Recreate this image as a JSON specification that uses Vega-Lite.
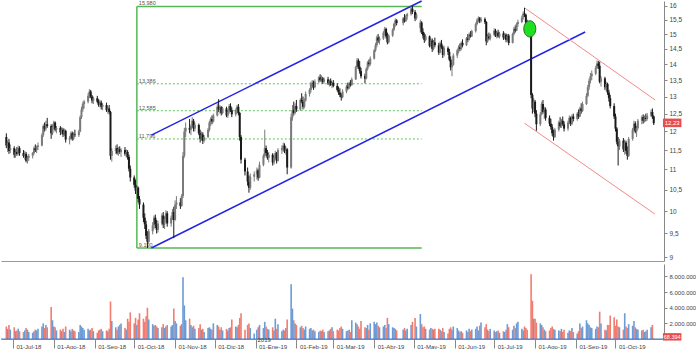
{
"$schema":"https://vega.github.io/schema/vega-lite/v6.json",
"padding":0,
"background":"white",
"spacing":3,
"config":{
 "view":{"stroke":null},
 "axis":{"labelFont":"Liberation Sans","labelColor":"#444","domainColor":"#888","tickColor":"#888","grid":false,"title":null,"labelOverlap":false},
 "locale":{
  "number":{"decimal":",","thousands":".","grouping":[3],"currency":["","\u00a0€"]},
  "time":{"dateTime":"%A, %e de %B de %Y, %X","date":"%d/%m/%Y","time":"%H:%M:%S","periods":["AM","PM"],
   "days":["domingo","lunes","martes","miércoles","jueves","viernes","sábado"],
   "shortDays":["dom","lun","mar","mié","jue","vie","sáb"],
   "months":["enero","febrero","marzo","abril","mayo","junio","julio","agosto","septiembre","octubre","noviembre","diciembre"],
   "shortMonths":["Ene","Feb","Mar","Abr","May","Jun","Jul","Ago","Sep","Oct","Nov","Dic"]}
 }
},
"datasets":{"px":[
{"d":"2018-06-26","o":11.85,"h":11.95,"l":11.55,"c":11.62,"v":1.6},
{"d":"2018-06-27","o":11.62,"h":11.75,"l":11.45,"c":11.70,"v":1.3},
{"d":"2018-06-28","o":11.70,"h":11.80,"l":11.40,"c":11.48,"v":1.8},
{"d":"2018-06-29","o":11.50,"h":11.65,"l":11.42,"c":11.55,"v":1.2},
{"d":"2018-07-02","o":11.55,"h":11.60,"l":11.30,"c":11.38,"v":1.5},
{"d":"2018-07-03","o":11.38,"h":11.52,"l":11.30,"c":11.45,"v":1.0},
{"d":"2018-07-04","o":11.45,"h":11.58,"l":11.35,"c":11.40,"v":1.1},
{"d":"2018-07-05","o":11.40,"h":11.62,"l":11.36,"c":11.55,"v":1.3},
{"d":"2018-07-06","o":11.55,"h":11.60,"l":11.35,"c":11.42,"v":1.0},
{"d":"2018-07-09","o":11.42,"h":11.50,"l":11.30,"c":11.35,"v":0.9},
{"d":"2018-07-10","o":11.35,"h":11.48,"l":11.25,"c":11.40,"v":1.1},
{"d":"2018-07-11","o":11.40,"h":11.45,"l":11.18,"c":11.22,"v":1.4},
{"d":"2018-07-12","o":11.22,"h":11.35,"l":11.15,"c":11.30,"v":1.2},
{"d":"2018-07-13","o":11.30,"h":11.40,"l":11.22,"c":11.35,"v":0.9},
{"d":"2018-07-16","o":11.35,"h":11.45,"l":11.28,"c":11.42,"v":0.8},
{"d":"2018-07-17","o":11.42,"h":11.60,"l":11.38,"c":11.55,"v":1.0},
{"d":"2018-07-18","o":11.55,"h":11.65,"l":11.45,"c":11.50,"v":1.2},
{"d":"2018-07-19","o":11.50,"h":11.62,"l":11.42,"c":11.58,"v":1.1},
{"d":"2018-07-20","o":11.58,"h":11.70,"l":11.50,"c":11.62,"v":1.3},
{"d":"2018-07-23","o":11.62,"h":11.95,"l":11.60,"c":11.90,"v":1.6},
{"d":"2018-07-24","o":11.90,"h":12.20,"l":11.85,"c":12.15,"v":2.0},
{"d":"2018-07-25","o":12.15,"h":12.25,"l":12.00,"c":12.08,"v":1.4},
{"d":"2018-07-26","o":12.08,"h":12.30,"l":12.02,"c":12.20,"v":1.8},
{"d":"2018-07-27","o":12.20,"h":12.38,"l":12.10,"c":12.15,"v":1.5},
{"d":"2018-07-30","o":12.15,"h":12.20,"l":11.80,"c":11.95,"v":4.1},
{"d":"2018-07-31","o":11.95,"h":12.20,"l":11.90,"c":12.12,"v":2.4},
{"d":"2018-08-01","o":12.12,"h":12.30,"l":12.05,"c":12.25,"v":1.6},
{"d":"2018-08-02","o":12.25,"h":12.28,"l":12.00,"c":12.05,"v":1.5},
{"d":"2018-08-03","o":12.05,"h":12.15,"l":11.95,"c":12.10,"v":1.1},
{"d":"2018-08-06","o":12.10,"h":12.15,"l":11.90,"c":11.98,"v":1.2},
{"d":"2018-08-07","o":11.98,"h":12.12,"l":11.92,"c":12.05,"v":1.0},
{"d":"2018-08-08","o":12.05,"h":12.10,"l":11.85,"c":11.92,"v":1.3},
{"d":"2018-08-09","o":11.92,"h":12.08,"l":11.88,"c":12.02,"v":0.9},
{"d":"2018-08-10","o":12.02,"h":12.05,"l":11.70,"c":11.78,"v":1.6},
{"d":"2018-08-13","o":11.78,"h":11.88,"l":11.65,"c":11.82,"v":1.2},
{"d":"2018-08-14","o":11.82,"h":12.00,"l":11.78,"c":11.95,"v":1.0},
{"d":"2018-08-15","o":11.95,"h":12.00,"l":11.75,"c":11.80,"v":1.3},
{"d":"2018-08-16","o":11.80,"h":11.98,"l":11.76,"c":11.92,"v":1.1},
{"d":"2018-08-17","o":11.92,"h":12.05,"l":11.85,"c":11.90,"v":1.0},
{"d":"2018-08-20","o":11.90,"h":12.05,"l":11.85,"c":12.00,"v":0.9},
{"d":"2018-08-21","o":12.00,"h":12.45,"l":11.98,"c":12.40,"v":1.8},
{"d":"2018-08-22","o":12.40,"h":12.70,"l":12.35,"c":12.62,"v":1.6},
{"d":"2018-08-23","o":12.62,"h":12.85,"l":12.55,"c":12.78,"v":1.4},
{"d":"2018-08-24","o":12.78,"h":12.90,"l":12.65,"c":12.85,"v":1.2},
{"d":"2018-08-27","o":12.85,"h":13.10,"l":12.80,"c":13.02,"v":1.3},
{"d":"2018-08-28","o":13.02,"h":13.22,"l":12.95,"c":13.15,"v":1.1},
{"d":"2018-08-29","o":13.15,"h":13.20,"l":12.95,"c":13.00,"v":1.2},
{"d":"2018-08-30","o":13.00,"h":13.05,"l":12.80,"c":12.88,"v":1.4},
{"d":"2018-08-31","o":12.88,"h":13.00,"l":12.78,"c":12.95,"v":1.0},
{"d":"2018-09-03","o":12.95,"h":13.02,"l":12.80,"c":12.85,"v":0.8},
{"d":"2018-09-04","o":12.85,"h":12.92,"l":12.70,"c":12.75,"v":1.1},
{"d":"2018-09-05","o":12.75,"h":12.90,"l":12.68,"c":12.82,"v":1.2},
{"d":"2018-09-06","o":12.82,"h":12.88,"l":12.62,"c":12.70,"v":1.3},
{"d":"2018-09-07","o":12.70,"h":12.80,"l":12.60,"c":12.75,"v":1.0},
{"d":"2018-09-10","o":12.75,"h":12.82,"l":12.55,"c":12.60,"v":1.1},
{"d":"2018-09-11","o":12.60,"h":12.72,"l":12.50,"c":12.65,"v":1.0},
{"d":"2018-09-12","o":12.65,"h":12.75,"l":12.48,"c":12.55,"v":1.3},
{"d":"2018-09-13","o":12.55,"h":12.58,"l":11.25,"c":11.35,"v":4.8},
{"d":"2018-09-14","o":11.35,"h":11.55,"l":11.20,"c":11.48,"v":2.3},
{"d":"2018-09-17","o":11.48,"h":11.62,"l":11.40,"c":11.55,"v":1.5},
{"d":"2018-09-18","o":11.55,"h":11.65,"l":11.38,"c":11.42,"v":1.2},
{"d":"2018-09-19","o":11.42,"h":11.58,"l":11.35,"c":11.52,"v":1.6},
{"d":"2018-09-20","o":11.52,"h":11.60,"l":11.40,"c":11.45,"v":1.8},
{"d":"2018-09-21","o":11.45,"h":11.55,"l":11.32,"c":11.50,"v":2.0},
{"d":"2018-09-24","o":11.50,"h":11.58,"l":11.35,"c":11.40,"v":1.4},
{"d":"2018-09-25","o":11.40,"h":11.52,"l":11.30,"c":11.45,"v":1.2},
{"d":"2018-09-26","o":11.45,"h":11.50,"l":11.25,"c":11.32,"v":2.6},
{"d":"2018-09-27","o":11.32,"h":11.38,"l":10.95,"c":11.02,"v":2.2},
{"d":"2018-09-28","o":11.02,"h":11.10,"l":10.70,"c":10.80,"v":3.4},
{"d":"2018-10-01","o":10.80,"h":10.85,"l":10.55,"c":10.62,"v":2.0},
{"d":"2018-10-02","o":10.62,"h":10.75,"l":10.40,"c":10.48,"v":2.7},
{"d":"2018-10-03","o":10.48,"h":10.60,"l":10.30,"c":10.55,"v":1.8},
{"d":"2018-10-04","o":10.55,"h":10.58,"l":10.20,"c":10.28,"v":2.5},
{"d":"2018-10-05","o":10.28,"h":10.35,"l":10.05,"c":10.15,"v":3.3},
{"d":"2018-10-08","o":10.15,"h":10.20,"l":9.75,"c":9.85,"v":2.6},
{"d":"2018-10-09","o":9.85,"h":9.95,"l":9.60,"c":9.70,"v":2.2},
{"d":"2018-10-10","o":9.70,"h":9.78,"l":9.38,"c":9.45,"v":2.9},
{"d":"2018-10-11","o":9.45,"h":9.55,"l":9.19,"c":9.32,"v":4.0},
{"d":"2018-10-12","o":9.32,"h":9.60,"l":9.28,"c":9.55,"v":2.5},
{"d":"2018-10-15","o":9.55,"h":9.75,"l":9.48,"c":9.68,"v":1.9},
{"d":"2018-10-16","o":9.68,"h":9.90,"l":9.60,"c":9.85,"v":1.7},
{"d":"2018-10-17","o":9.85,"h":9.92,"l":9.62,"c":9.70,"v":1.8},
{"d":"2018-10-18","o":9.70,"h":9.80,"l":9.50,"c":9.58,"v":1.6},
{"d":"2018-10-19","o":9.58,"h":9.78,"l":9.52,"c":9.72,"v":1.4},
{"d":"2018-10-22","o":9.72,"h":9.95,"l":9.68,"c":9.90,"v":1.5},
{"d":"2018-10-23","o":9.90,"h":9.98,"l":9.62,"c":9.70,"v":1.9},
{"d":"2018-10-24","o":9.70,"h":9.88,"l":9.60,"c":9.82,"v":1.4},
{"d":"2018-10-25","o":9.82,"h":10.02,"l":9.75,"c":9.95,"v":1.6},
{"d":"2018-10-26","o":9.95,"h":10.00,"l":9.65,"c":9.72,"v":1.8},
{"d":"2018-10-29","o":9.72,"h":9.90,"l":9.65,"c":9.85,"v":1.6},
{"d":"2018-10-30","o":9.85,"h":10.05,"l":9.80,"c":9.98,"v":1.8},
{"d":"2018-10-31","o":9.98,"h":10.10,"l":9.40,"c":9.80,"v":3.9},
{"d":"2018-11-01","o":9.80,"h":10.25,"l":9.78,"c":10.15,"v":2.3},
{"d":"2018-11-02","o":10.15,"h":10.35,"l":10.05,"c":10.20,"v":2.0},
{"d":"2018-11-05","o":10.20,"h":10.30,"l":10.05,"c":10.12,"v":1.7},
{"d":"2018-11-06","o":10.12,"h":10.40,"l":10.10,"c":10.35,"v":1.9},
{"d":"2018-11-07","o":10.35,"h":11.45,"l":10.30,"c":11.35,"v":7.9},
{"d":"2018-11-08","o":11.35,"h":12.10,"l":11.30,"c":12.00,"v":4.3},
{"d":"2018-11-09","o":12.00,"h":12.25,"l":11.85,"c":12.10,"v":2.4},
{"d":"2018-11-12","o":12.10,"h":12.35,"l":11.95,"c":12.05,"v":2.6},
{"d":"2018-11-13","o":12.05,"h":12.20,"l":11.90,"c":12.15,"v":1.8},
{"d":"2018-11-14","o":12.15,"h":12.40,"l":12.10,"c":12.30,"v":1.5},
{"d":"2018-11-15","o":12.30,"h":12.35,"l":12.00,"c":12.08,"v":1.7},
{"d":"2018-11-16","o":12.08,"h":12.25,"l":12.00,"c":12.18,"v":1.3},
{"d":"2018-11-19","o":12.18,"h":12.22,"l":11.90,"c":11.95,"v":1.4},
{"d":"2018-11-20","o":11.95,"h":12.05,"l":11.70,"c":11.80,"v":1.9},
{"d":"2018-11-21","o":11.80,"h":12.00,"l":11.75,"c":11.92,"v":1.2},
{"d":"2018-11-22","o":11.92,"h":11.98,"l":11.66,"c":11.75,"v":1.3},
{"d":"2018-11-23","o":11.75,"h":11.90,"l":11.70,"c":11.85,"v":0.9},
{"d":"2018-11-26","o":11.85,"h":12.10,"l":11.82,"c":12.05,"v":1.4},
{"d":"2018-11-27","o":12.05,"h":12.30,"l":12.00,"c":12.25,"v":1.5},
{"d":"2018-11-28","o":12.25,"h":12.40,"l":12.15,"c":12.35,"v":1.3},
{"d":"2018-11-29","o":12.35,"h":12.45,"l":12.20,"c":12.28,"v":1.2},
{"d":"2018-11-30","o":12.28,"h":12.50,"l":12.25,"c":12.45,"v":2.0},
{"d":"2018-12-03","o":12.45,"h":12.80,"l":12.42,"c":12.70,"v":1.8},
{"d":"2018-12-04","o":12.70,"h":12.92,"l":12.55,"c":12.62,"v":1.6},
{"d":"2018-12-05","o":12.62,"h":12.75,"l":12.50,"c":12.68,"v":1.2},
{"d":"2018-12-06","o":12.68,"h":12.72,"l":12.45,"c":12.52,"v":1.5},
{"d":"2018-12-07","o":12.52,"h":12.70,"l":12.48,"c":12.65,"v":1.1},
{"d":"2018-12-10","o":12.65,"h":12.70,"l":12.40,"c":12.45,"v":1.3},
{"d":"2018-12-11","o":12.45,"h":12.60,"l":12.38,"c":12.55,"v":1.1},
{"d":"2018-12-12","o":12.55,"h":12.78,"l":12.50,"c":12.72,"v":1.4},
{"d":"2018-12-13","o":12.72,"h":12.80,"l":12.55,"c":12.60,"v":1.5},
{"d":"2018-12-14","o":12.60,"h":12.68,"l":12.40,"c":12.48,"v":2.5},
{"d":"2018-12-17","o":12.48,"h":12.65,"l":12.42,"c":12.60,"v":1.6},
{"d":"2018-12-18","o":12.60,"h":12.75,"l":12.50,"c":12.70,"v":1.5},
{"d":"2018-12-19","o":12.70,"h":12.78,"l":12.45,"c":12.52,"v":1.8},
{"d":"2018-12-20","o":12.52,"h":12.55,"l":11.75,"c":11.85,"v":2.7},
{"d":"2018-12-21","o":11.85,"h":11.90,"l":11.15,"c":11.25,"v":3.3},
{"d":"2018-12-24","o":11.25,"h":11.30,"l":10.85,"c":10.95,"v":1.2},
{"d":"2018-12-26","o":10.95,"h":11.05,"l":10.60,"c":10.70,"v":1.8},
{"d":"2018-12-27","o":10.70,"h":10.85,"l":10.43,"c":10.55,"v":2.0},
{"d":"2018-12-28","o":10.55,"h":10.90,"l":10.50,"c":10.82,"v":1.4},
{"d":"2018-12-31","o":10.82,"h":10.95,"l":10.70,"c":10.88,"v":0.7},
{"d":"2019-01-02","o":10.88,"h":11.05,"l":10.75,"c":10.98,"v":1.2},
{"d":"2019-01-03","o":10.98,"h":11.02,"l":10.72,"c":10.80,"v":1.5},
{"d":"2019-01-04","o":10.80,"h":11.20,"l":10.78,"c":11.12,"v":1.8},
{"d":"2019-01-07","o":11.12,"h":11.40,"l":11.08,"c":11.35,"v":1.4},
{"d":"2019-01-08","o":11.35,"h":12.05,"l":11.30,"c":11.55,"v":2.2},
{"d":"2019-01-09","o":11.55,"h":11.62,"l":11.35,"c":11.42,"v":1.6},
{"d":"2019-01-10","o":11.42,"h":11.50,"l":11.25,"c":11.30,"v":1.3},
{"d":"2019-01-11","o":11.30,"h":11.45,"l":11.18,"c":11.38,"v":1.2},
{"d":"2019-01-14","o":11.38,"h":11.42,"l":11.10,"c":11.18,"v":1.5},
{"d":"2019-01-15","o":11.18,"h":11.35,"l":11.12,"c":11.30,"v":1.1},
{"d":"2019-01-16","o":11.30,"h":11.48,"l":11.25,"c":11.42,"v":2.6},
{"d":"2019-01-17","o":11.42,"h":11.45,"l":11.15,"c":11.22,"v":1.3},
{"d":"2019-01-18","o":11.22,"h":11.55,"l":11.20,"c":11.50,"v":1.9},
{"d":"2019-01-21","o":11.50,"h":11.62,"l":11.40,"c":11.55,"v":1.0},
{"d":"2019-01-22","o":11.55,"h":11.70,"l":11.45,"c":11.62,"v":1.2},
{"d":"2019-01-23","o":11.62,"h":11.68,"l":11.42,"c":11.48,"v":1.1},
{"d":"2019-01-24","o":11.48,"h":11.60,"l":11.38,"c":11.52,"v":1.4},
{"d":"2019-01-25","o":11.52,"h":11.55,"l":10.88,"c":11.05,"v":2.5},
{"d":"2019-01-28","o":11.05,"h":12.50,"l":11.02,"c":12.40,"v":7.0},
{"d":"2019-01-29","o":12.40,"h":12.75,"l":12.30,"c":12.60,"v":3.9},
{"d":"2019-01-30","o":12.60,"h":12.85,"l":12.45,"c":12.52,"v":2.4},
{"d":"2019-01-31","o":12.52,"h":12.80,"l":12.48,"c":12.72,"v":2.0},
{"d":"2019-02-01","o":12.72,"h":12.90,"l":12.55,"c":12.62,"v":1.8},
{"d":"2019-02-04","o":12.62,"h":12.95,"l":12.58,"c":12.90,"v":1.5},
{"d":"2019-02-05","o":12.90,"h":13.10,"l":12.80,"c":12.85,"v":1.7},
{"d":"2019-02-06","o":12.85,"h":13.00,"l":12.62,"c":12.70,"v":1.4},
{"d":"2019-02-07","o":12.70,"h":12.95,"l":12.65,"c":12.88,"v":1.2},
{"d":"2019-02-08","o":12.88,"h":13.15,"l":12.85,"c":13.08,"v":1.6},
{"d":"2019-02-11","o":13.08,"h":13.25,"l":13.00,"c":13.20,"v":1.3},
{"d":"2019-02-12","o":13.20,"h":13.45,"l":13.12,"c":13.38,"v":1.4},
{"d":"2019-02-13","o":13.38,"h":13.50,"l":13.25,"c":13.42,"v":1.1},
{"d":"2019-02-14","o":13.42,"h":13.48,"l":13.20,"c":13.28,"v":1.2},
{"d":"2019-02-15","o":13.28,"h":13.52,"l":13.25,"c":13.45,"v":1.0},
{"d":"2019-02-18","o":13.45,"h":13.62,"l":13.40,"c":13.58,"v":0.9},
{"d":"2019-02-19","o":13.58,"h":13.68,"l":13.45,"c":13.50,"v":1.1},
{"d":"2019-02-20","o":13.50,"h":13.65,"l":13.42,"c":13.55,"v":1.0},
{"d":"2019-02-21","o":13.55,"h":13.60,"l":13.38,"c":13.45,"v":1.2},
{"d":"2019-02-22","o":13.45,"h":13.58,"l":13.40,"c":13.52,"v":0.9},
{"d":"2019-02-25","o":13.52,"h":13.60,"l":13.35,"c":13.40,"v":1.0},
{"d":"2019-02-26","o":13.40,"h":13.52,"l":13.30,"c":13.48,"v":1.1},
{"d":"2019-02-27","o":13.48,"h":13.55,"l":13.32,"c":13.35,"v":1.3},
{"d":"2019-02-28","o":13.35,"h":13.45,"l":13.25,"c":13.42,"v":1.5},
{"d":"2019-03-01","o":13.42,"h":13.50,"l":13.28,"c":13.32,"v":1.0},
{"d":"2019-03-04","o":13.32,"h":13.40,"l":13.15,"c":13.20,"v":1.2},
{"d":"2019-03-05","o":13.20,"h":13.30,"l":13.05,"c":13.12,"v":1.1},
{"d":"2019-03-06","o":13.12,"h":13.25,"l":12.98,"c":13.05,"v":1.4},
{"d":"2019-03-07","o":13.05,"h":13.10,"l":12.88,"c":12.98,"v":1.6},
{"d":"2019-03-08","o":12.98,"h":13.22,"l":12.95,"c":13.15,"v":1.3},
{"d":"2019-03-11","o":13.15,"h":13.35,"l":13.10,"c":13.30,"v":1.0},
{"d":"2019-03-12","o":13.30,"h":13.42,"l":13.20,"c":13.25,"v":1.1},
{"d":"2019-03-13","o":13.25,"h":13.45,"l":13.22,"c":13.40,"v":1.2},
{"d":"2019-03-14","o":13.40,"h":13.50,"l":13.30,"c":13.35,"v":0.9},
{"d":"2019-03-15","o":13.35,"h":13.58,"l":13.32,"c":13.52,"v":2.4},
{"d":"2019-03-18","o":13.52,"h":13.95,"l":13.50,"c":13.90,"v":2.1},
{"d":"2019-03-19","o":13.90,"h":14.20,"l":13.85,"c":14.12,"v":1.9},
{"d":"2019-03-20","o":14.12,"h":14.18,"l":13.85,"c":13.92,"v":1.6},
{"d":"2019-03-21","o":13.92,"h":14.10,"l":13.70,"c":13.78,"v":1.3},
{"d":"2019-03-22","o":13.78,"h":13.88,"l":13.55,"c":13.62,"v":2.3},
{"d":"2019-03-25","o":13.62,"h":13.70,"l":13.40,"c":13.55,"v":1.5},
{"d":"2019-03-26","o":13.55,"h":13.90,"l":13.52,"c":13.85,"v":1.4},
{"d":"2019-03-27","o":13.85,"h":14.10,"l":13.80,"c":14.05,"v":1.8},
{"d":"2019-03-28","o":14.05,"h":14.15,"l":13.92,"c":14.00,"v":1.2},
{"d":"2019-03-29","o":14.00,"h":14.25,"l":13.95,"c":14.18,"v":2.0},
{"d":"2019-04-01","o":14.18,"h":14.50,"l":14.15,"c":14.45,"v":2.2},
{"d":"2019-04-02","o":14.45,"h":14.70,"l":14.40,"c":14.62,"v":1.9},
{"d":"2019-04-03","o":14.62,"h":14.95,"l":14.55,"c":14.88,"v":2.1},
{"d":"2019-04-04","o":14.88,"h":15.00,"l":14.70,"c":14.78,"v":1.7},
{"d":"2019-04-05","o":14.78,"h":14.92,"l":14.65,"c":14.85,"v":1.5},
{"d":"2019-04-08","o":14.85,"h":15.10,"l":14.80,"c":15.05,"v":1.6},
{"d":"2019-04-09","o":15.05,"h":15.25,"l":14.95,"c":15.18,"v":1.8},
{"d":"2019-04-10","o":15.18,"h":15.22,"l":14.85,"c":14.92,"v":1.4},
{"d":"2019-04-11","o":14.92,"h":15.05,"l":14.65,"c":14.72,"v":2.7},
{"d":"2019-04-12","o":14.72,"h":15.00,"l":14.68,"c":14.95,"v":1.9},
{"d":"2019-04-15","o":14.95,"h":15.20,"l":14.90,"c":15.15,"v":1.5},
{"d":"2019-04-16","o":15.15,"h":15.40,"l":15.10,"c":15.35,"v":1.4},
{"d":"2019-04-17","o":15.35,"h":15.55,"l":15.25,"c":15.48,"v":1.3},
{"d":"2019-04-18","o":15.48,"h":15.52,"l":15.30,"c":15.38,"v":1.1},
{"d":"2019-04-23","o":15.38,"h":15.60,"l":15.30,"c":15.55,"v":1.2},
{"d":"2019-04-24","o":15.55,"h":15.70,"l":15.40,"c":15.45,"v":1.4},
{"d":"2019-04-25","o":15.45,"h":15.68,"l":15.42,"c":15.62,"v":1.1},
{"d":"2019-04-26","o":15.62,"h":15.75,"l":15.50,"c":15.70,"v":1.3},
{"d":"2019-04-29","o":15.70,"h":15.98,"l":15.65,"c":15.90,"v":1.8},
{"d":"2019-04-30","o":15.90,"h":16.00,"l":15.70,"c":15.78,"v":2.2},
{"d":"2019-05-02","o":15.78,"h":15.85,"l":15.45,"c":15.55,"v":2.7},
{"d":"2019-05-03","o":15.55,"h":15.75,"l":15.50,"c":15.68,"v":1.6},
{"d":"2019-05-06","o":15.20,"h":15.50,"l":15.05,"c":15.40,"v":3.2},
{"d":"2019-05-07","o":15.40,"h":15.45,"l":15.00,"c":15.08,"v":1.9},
{"d":"2019-05-08","o":15.08,"h":15.20,"l":14.85,"c":14.95,"v":1.5},
{"d":"2019-05-09","o":14.95,"h":15.05,"l":14.70,"c":14.80,"v":1.6},
{"d":"2019-05-10","o":14.80,"h":15.00,"l":14.75,"c":14.92,"v":1.3},
{"d":"2019-05-13","o":14.92,"h":14.95,"l":14.55,"c":14.60,"v":1.2},
{"d":"2019-05-14","o":14.60,"h":14.85,"l":14.55,"c":14.78,"v":1.4},
{"d":"2019-05-15","o":14.78,"h":14.85,"l":14.40,"c":14.50,"v":1.3},
{"d":"2019-05-16","o":14.50,"h":14.80,"l":14.45,"c":14.72,"v":1.2},
{"d":"2019-05-17","o":14.72,"h":14.88,"l":14.55,"c":14.62,"v":1.3},
{"d":"2019-05-20","o":14.62,"h":14.70,"l":14.30,"c":14.38,"v":1.3},
{"d":"2019-05-21","o":14.38,"h":14.75,"l":14.35,"c":14.68,"v":1.2},
{"d":"2019-05-22","o":14.68,"h":14.80,"l":14.50,"c":14.55,"v":1.0},
{"d":"2019-05-23","o":14.55,"h":14.62,"l":14.20,"c":14.30,"v":1.4},
{"d":"2019-05-24","o":14.30,"h":14.60,"l":14.25,"c":14.52,"v":0.9},
{"d":"2019-05-27","o":14.52,"h":14.58,"l":14.30,"c":14.40,"v":0.7},
{"d":"2019-05-28","o":14.40,"h":14.50,"l":14.10,"c":14.15,"v":1.3},
{"d":"2019-05-29","o":14.15,"h":14.25,"l":13.80,"c":13.90,"v":1.5},
{"d":"2019-05-30","o":13.90,"h":14.05,"l":13.62,"c":13.98,"v":1.2},
{"d":"2019-05-31","o":13.98,"h":14.35,"l":13.95,"c":14.28,"v":1.6},
{"d":"2019-06-03","o":14.28,"h":14.50,"l":14.20,"c":14.45,"v":1.4},
{"d":"2019-06-04","o":14.45,"h":14.62,"l":14.35,"c":14.55,"v":1.1},
{"d":"2019-06-05","o":14.55,"h":14.68,"l":14.42,"c":14.50,"v":0.9},
{"d":"2019-06-06","o":14.50,"h":14.75,"l":14.45,"c":14.70,"v":1.0},
{"d":"2019-06-07","o":14.70,"h":14.82,"l":14.55,"c":14.62,"v":0.8},
{"d":"2019-06-10","o":14.62,"h":14.90,"l":14.60,"c":14.85,"v":1.1},
{"d":"2019-06-11","o":14.85,"h":15.00,"l":14.72,"c":14.80,"v":0.9},
{"d":"2019-06-12","o":14.80,"h":15.05,"l":14.78,"c":14.98,"v":1.3},
{"d":"2019-06-13","o":14.98,"h":15.10,"l":14.88,"c":14.92,"v":1.0},
{"d":"2019-06-14","o":14.92,"h":15.15,"l":14.90,"c":15.10,"v":1.2},
{"d":"2019-06-17","o":15.10,"h":15.40,"l":15.05,"c":15.35,"v":1.3},
{"d":"2019-06-18","o":15.35,"h":15.55,"l":15.30,"c":15.48,"v":1.6},
{"d":"2019-06-19","o":15.48,"h":15.62,"l":15.40,"c":15.55,"v":1.1},
{"d":"2019-06-20","o":15.55,"h":15.60,"l":15.38,"c":15.45,"v":1.7},
{"d":"2019-06-21","o":15.45,"h":15.60,"l":15.40,"c":15.52,"v":2.1},
{"d":"2019-06-24","o":15.52,"h":15.58,"l":15.35,"c":15.42,"v":1.5},
{"d":"2019-06-25","o":15.42,"h":15.45,"l":14.62,"c":14.75,"v":1.9},
{"d":"2019-06-26","o":14.75,"h":15.00,"l":14.70,"c":14.92,"v":1.2},
{"d":"2019-06-27","o":14.92,"h":15.05,"l":14.80,"c":14.85,"v":1.0},
{"d":"2019-06-28","o":14.85,"h":15.02,"l":14.78,"c":14.98,"v":1.3},
{"d":"2019-07-01","o":14.98,"h":15.20,"l":14.92,"c":15.12,"v":1.1},
{"d":"2019-07-02","o":15.12,"h":15.18,"l":14.90,"c":14.95,"v":0.9},
{"d":"2019-07-03","o":14.95,"h":15.10,"l":14.85,"c":15.05,"v":1.0},
{"d":"2019-07-04","o":15.05,"h":15.15,"l":14.88,"c":14.92,"v":1.1},
{"d":"2019-07-05","o":14.92,"h":15.08,"l":14.85,"c":15.02,"v":0.8},
{"d":"2019-07-08","o":15.02,"h":15.10,"l":14.80,"c":14.88,"v":1.0},
{"d":"2019-07-09","o":14.88,"h":15.05,"l":14.82,"c":14.98,"v":0.9},
{"d":"2019-07-10","o":14.98,"h":15.02,"l":14.72,"c":14.80,"v":1.2},
{"d":"2019-07-11","o":14.80,"h":15.00,"l":14.75,"c":14.95,"v":1.9},
{"d":"2019-07-12","o":14.95,"h":15.00,"l":14.62,"c":14.70,"v":1.5},
{"d":"2019-07-15","o":14.70,"h":15.05,"l":14.68,"c":15.00,"v":1.2},
{"d":"2019-07-16","o":15.00,"h":15.25,"l":14.95,"c":15.18,"v":1.7},
{"d":"2019-07-17","o":15.18,"h":15.30,"l":15.05,"c":15.12,"v":1.4},
{"d":"2019-07-18","o":15.12,"h":15.40,"l":15.10,"c":15.35,"v":2.0},
{"d":"2019-07-19","o":15.35,"h":15.50,"l":15.25,"c":15.42,"v":2.2},
{"d":"2019-07-22","o":15.42,"h":15.65,"l":15.38,"c":15.58,"v":1.3},
{"d":"2019-07-23","o":15.58,"h":15.80,"l":15.50,"c":15.72,"v":1.1},
{"d":"2019-07-24","o":15.72,"h":15.93,"l":15.60,"c":15.68,"v":1.6},
{"d":"2019-07-25","o":15.68,"h":15.72,"l":15.30,"c":15.40,"v":1.4},
{"d":"2019-07-26","o":15.40,"h":15.50,"l":15.15,"c":15.25,"v":1.2},
{"d":"2019-07-29","o":15.20,"h":15.20,"l":12.95,"c":13.05,"v":8.3},
{"d":"2019-07-30","o":13.05,"h":13.10,"l":12.50,"c":12.65,"v":4.9},
{"d":"2019-07-31","o":12.65,"h":12.95,"l":12.55,"c":12.85,"v":2.6},
{"d":"2019-08-01","o":12.85,"h":12.90,"l":12.40,"c":12.50,"v":2.6},
{"d":"2019-08-02","o":12.50,"h":12.60,"l":12.02,"c":12.20,"v":2.1},
{"d":"2019-08-05","o":12.20,"h":12.55,"l":12.15,"c":12.48,"v":2.0},
{"d":"2019-08-06","o":12.48,"h":12.85,"l":12.45,"c":12.78,"v":1.8},
{"d":"2019-08-07","o":12.78,"h":12.90,"l":12.50,"c":12.55,"v":1.5},
{"d":"2019-08-08","o":12.55,"h":12.70,"l":12.35,"c":12.62,"v":1.2},
{"d":"2019-08-09","o":12.62,"h":12.68,"l":12.30,"c":12.38,"v":1.0},
{"d":"2019-08-12","o":12.38,"h":12.45,"l":12.15,"c":12.22,"v":1.1},
{"d":"2019-08-13","o":12.22,"h":12.35,"l":12.05,"c":12.12,"v":1.4},
{"d":"2019-08-14","o":12.12,"h":12.20,"l":11.88,"c":11.95,"v":1.6},
{"d":"2019-08-15","o":11.95,"h":12.05,"l":11.75,"c":11.85,"v":1.3},
{"d":"2019-08-16","o":11.85,"h":12.10,"l":11.82,"c":12.05,"v":1.2},
{"d":"2019-08-19","o":12.05,"h":12.30,"l":12.00,"c":12.25,"v":1.1},
{"d":"2019-08-20","o":12.25,"h":12.40,"l":12.10,"c":12.15,"v":1.0},
{"d":"2019-08-21","o":12.15,"h":12.35,"l":12.10,"c":12.30,"v":1.3},
{"d":"2019-08-22","o":12.30,"h":12.42,"l":12.15,"c":12.20,"v":0.9},
{"d":"2019-08-23","o":12.20,"h":12.28,"l":12.00,"c":12.08,"v":1.2},
{"d":"2019-08-26","o":12.08,"h":12.30,"l":12.02,"c":12.25,"v":0.8},
{"d":"2019-08-27","o":12.25,"h":12.45,"l":12.20,"c":12.38,"v":1.1},
{"d":"2019-08-28","o":12.38,"h":12.42,"l":12.15,"c":12.22,"v":1.0},
{"d":"2019-08-29","o":12.22,"h":12.48,"l":12.18,"c":12.42,"v":1.4},
{"d":"2019-08-30","o":12.42,"h":12.50,"l":12.28,"c":12.35,"v":0.9},
{"d":"2019-09-02","o":12.35,"h":12.55,"l":12.30,"c":12.50,"v":0.7},
{"d":"2019-09-03","o":12.50,"h":12.62,"l":12.35,"c":12.42,"v":1.0},
{"d":"2019-09-04","o":12.42,"h":12.70,"l":12.40,"c":12.65,"v":2.0},
{"d":"2019-09-05","o":12.65,"h":12.80,"l":12.50,"c":12.58,"v":1.4},
{"d":"2019-09-06","o":12.58,"h":12.85,"l":12.55,"c":12.78,"v":1.6},
{"d":"2019-09-09","o":12.78,"h":13.10,"l":12.75,"c":13.02,"v":2.4},
{"d":"2019-09-10","o":13.02,"h":13.35,"l":12.98,"c":13.28,"v":2.0},
{"d":"2019-09-11","o":13.28,"h":13.55,"l":13.20,"c":13.48,"v":1.8},
{"d":"2019-09-12","o":13.48,"h":13.72,"l":13.40,"c":13.62,"v":1.5},
{"d":"2019-09-13","o":13.62,"h":13.80,"l":13.50,"c":13.70,"v":1.4},
{"d":"2019-09-16","o":13.70,"h":13.95,"l":13.65,"c":13.88,"v":1.3},
{"d":"2019-09-17","o":13.88,"h":14.12,"l":13.85,"c":14.02,"v":1.6},
{"d":"2019-09-18","o":14.02,"h":14.10,"l":13.85,"c":13.95,"v":1.5},
{"d":"2019-09-19","o":13.95,"h":14.08,"l":13.40,"c":13.45,"v":3.5},
{"d":"2019-09-20","o":13.45,"h":13.62,"l":13.30,"c":13.55,"v":2.0},
{"d":"2019-09-23","o":13.55,"h":13.60,"l":13.20,"c":13.28,"v":1.2},
{"d":"2019-09-24","o":13.28,"h":13.45,"l":13.15,"c":13.38,"v":1.1},
{"d":"2019-09-25","o":13.38,"h":13.42,"l":13.05,"c":13.12,"v":1.8},
{"d":"2019-09-26","o":13.12,"h":13.20,"l":12.85,"c":12.95,"v":1.8},
{"d":"2019-09-27","o":12.95,"h":13.05,"l":12.65,"c":12.72,"v":3.0},
{"d":"2019-09-30","o":12.72,"h":12.80,"l":12.35,"c":12.42,"v":2.8},
{"d":"2019-10-01","o":12.42,"h":12.50,"l":12.00,"c":12.08,"v":1.7},
{"d":"2019-10-02","o":12.08,"h":12.12,"l":11.65,"c":11.72,"v":2.5},
{"d":"2019-10-03","o":11.72,"h":11.85,"l":11.10,"c":11.60,"v":1.6},
{"d":"2019-10-04","o":11.60,"h":11.80,"l":11.50,"c":11.75,"v":1.5},
{"d":"2019-10-07","o":11.75,"h":11.82,"l":11.45,"c":11.52,"v":1.2},
{"d":"2019-10-08","o":11.52,"h":11.78,"l":11.38,"c":11.70,"v":3.3},
{"d":"2019-10-09","o":11.70,"h":11.75,"l":11.40,"c":11.48,"v":1.6},
{"d":"2019-10-10","o":11.48,"h":11.60,"l":11.25,"c":11.35,"v":1.4},
{"d":"2019-10-11","o":11.35,"h":11.85,"l":11.32,"c":11.80,"v":1.9},
{"d":"2019-10-14","o":11.80,"h":12.10,"l":11.75,"c":12.05,"v":1.7},
{"d":"2019-10-15","o":12.05,"h":12.30,"l":12.00,"c":12.22,"v":2.3},
{"d":"2019-10-16","o":12.22,"h":12.28,"l":11.95,"c":12.00,"v":1.5},
{"d":"2019-10-17","o":12.00,"h":12.15,"l":11.85,"c":12.10,"v":1.3},
{"d":"2019-10-18","o":12.10,"h":12.35,"l":12.05,"c":12.30,"v":1.2},
{"d":"2019-10-21","o":12.30,"h":12.45,"l":12.20,"c":12.40,"v":1.1},
{"d":"2019-10-22","o":12.40,"h":12.48,"l":12.22,"c":12.30,"v":1.2},
{"d":"2019-10-23","o":12.30,"h":12.45,"l":12.25,"c":12.38,"v":0.9},
{"d":"2019-10-24","o":12.38,"h":12.50,"l":12.28,"c":12.35,"v":1.0},
{"d":"2019-10-25","o":12.35,"h":12.52,"l":12.30,"c":12.45,"v":1.2},
{"d":"2019-10-28","o":12.45,"h":12.62,"l":12.40,"c":12.55,"v":1.5},
{"d":"2019-10-29","o":12.55,"h":12.65,"l":12.35,"c":12.42,"v":1.8},
{"d":"2019-10-30","o":12.42,"h":12.45,"l":12.18,"c":12.23,"v":0.07}
]},
"vconcat":[
{
 "width":663,"height":260,
 "layer":[
  {"data":{"values":[
    {"d":"2018-10-03","d2":"2018-10-03","p":9.19,"p2":15.98},
    {"d":"2018-10-03","d2":"2019-05-07","p":15.98,"p2":15.98},
    {"d":"2018-10-03","d2":"2019-05-07","p":9.19,"p2":9.19}]},
   "mark":{"type":"rule","color":"#55b855","strokeWidth":1.5},
   "encoding":{
    "x":{"field":"d","type":"temporal","scale":{"type":"utc","domain":[{"year":2018,"month":6,"date":25,"hours":18,"utc":true},{"year":2019,"month":11,"date":3,"utc":true}]},"axis":{"labels":false,"ticks":false,"domain":true,"domainColor":"#999","title":null}},
    "x2":{"field":"d2"},
    "y":{"field":"p","type":"quantitative","scale":{"type":"log","domain":[8.92,16.18],"nice":false},"axis":{"orient":"right","values":[9,9.5,10,10.5,11,11.5,12,12.5,13,13.5,14,14.5,15,15.5,16],"format":"~g","tickSize":3,"labelPadding":2,"labelFontSize":6.5,"title":null}},
    "y2":{"field":"p2"}}},
  {"data":{"values":[
    {"d":"2018-10-03","d2":"2019-05-07","p":13.386,"p2":13.386},
    {"d":"2018-10-03","d2":"2019-05-07","p":12.585,"p2":12.585},
    {"d":"2018-10-03","d2":"2019-05-07","p":11.796,"p2":11.796}]},
   "mark":{"type":"rule","color":"#5cc45c","strokeWidth":1,"strokeDash":[2,2]},
   "encoding":{"x":{"field":"d","type":"temporal"},"x2":{"field":"d2"},"y":{"field":"p","type":"quantitative"},"y2":{"field":"p2"}}},
  {"data":{"values":[
    {"d":"2018-10-03","p":15.98,"t":"15.980"},
    {"d":"2018-10-03","p":13.386,"t":"13.386"},
    {"d":"2018-10-03","p":12.585,"t":"12.585"},
    {"d":"2018-10-03","p":11.796,"t":"11.796"},
    {"d":"2018-10-03","p":9.19,"t":"9.190"}]},
   "mark":{"type":"text","align":"left","baseline":"bottom","dx":2,"dy":0,"fontSize":5.5,"color":"#555","font":"Liberation Sans"},
   "encoding":{"x":{"field":"d","type":"temporal"},"y":{"field":"p","type":"quantitative"},"text":{"field":"t"}}},
  {"data":{"values":[
    {"d":"2018-10-14","d2":"2019-05-07","p":11.9,"p2":16.18},
    {"d":"2018-10-14","d2":"2019-09-08","p":9.19,"p2":15.07}]},
   "mark":{"type":"rule","color":"#2323e6","strokeWidth":1.5},
   "encoding":{"x":{"field":"d","type":"temporal"},"x2":{"field":"d2"},"y":{"field":"p","type":"quantitative"},"y2":{"field":"p2"}}},
  {"data":{"values":[
    {"d":"2019-07-24","d2":"2019-10-31","p":15.93,"p2":12.9},
    {"d":"2019-07-24","d2":"2019-10-31","p":12.23,"p2":9.93}]},
   "mark":{"type":"rule","color":"#f28a8a","strokeWidth":1},
   "encoding":{"x":{"field":"d","type":"temporal"},"x2":{"field":"d2"},"y":{"field":"p","type":"quantitative"},"y2":{"field":"p2"}}},
  {"data":{"name":"px"},
   "mark":{"type":"rule","strokeWidth":1},
   "encoding":{"x":{"field":"d","type":"temporal"},"y":{"field":"l","type":"quantitative"},"y2":{"field":"h"},
    "color":{"condition":{"test":"datum.c >= datum.o","value":"#7a7a7a"},"value":"#1a1a1a"}}},
  {"data":{"name":"px"},
   "mark":{"type":"bar","size":2},
   "encoding":{"x":{"field":"d","type":"temporal"},"y":{"field":"o","type":"quantitative"},"y2":{"field":"c"},
    "color":{"condition":{"test":"datum.c >= datum.o","value":"#7a7a7a"},"value":"#1a1a1a"}}},
  {"data":{"values":[{"d":"2019-07-28","p":15.18}]},
   "mark":{"type":"point","filled":true,"shape":"M0,-1.35A1,1.35 0 1,1 0,1.35A1,1.35 0 1,1 0,-1.35Z","size":144,"fill":"#1ee01e","stroke":"#2a6a2a","strokeWidth":1,"opacity":1},
   "encoding":{"x":{"field":"d","type":"temporal"},"y":{"field":"p","type":"quantitative"}}},
  {"data":{"values":[{"d":"2019-11-06","d2":"2019-11-20","p":12.12,"p2":12.36}]},
   "mark":{"type":"rect","color":"#e84c4c","clip":false},
   "encoding":{"x":{"field":"d","type":"temporal"},"x2":{"field":"d2"},"y":{"field":"p","type":"quantitative"},"y2":{"field":"p2"}}},
  {"data":{"values":[{"d":"2019-11-13","p":12.23,"t":"12,23"}]},
   "mark":{"type":"text","color":"white","fontSize":6,"font":"Liberation Sans","align":"center","baseline":"middle"},
   "encoding":{"x":{"field":"d","type":"temporal"},"y":{"field":"p","type":"quantitative"},"text":{"field":"t"}}}
 ]
},
{
 "width":663,"height":75,
 "layer":[
  {"data":{"name":"px"},
   "mark":{"type":"bar","size":1.6},
   "encoding":{
    "x":{"field":"d","type":"temporal","scale":{"type":"utc","domain":[{"year":2018,"month":6,"date":25,"hours":18,"utc":true},{"year":2019,"month":11,"date":3,"utc":true}]},
     "axis":{"format":"%d-%b-%y","values":[
       {"year":2018,"month":7,"date":1,"utc":true},{"year":2018,"month":8,"date":1,"utc":true},{"year":2018,"month":9,"date":1,"utc":true},
       {"year":2018,"month":10,"date":1,"utc":true},{"year":2018,"month":11,"date":1,"utc":true},{"year":2018,"month":12,"date":1,"utc":true},
       {"year":2019,"month":1,"date":1,"utc":true},{"year":2019,"month":2,"date":1,"utc":true},{"year":2019,"month":3,"date":1,"utc":true},
       {"year":2019,"month":4,"date":1,"utc":true},{"year":2019,"month":5,"date":1,"utc":true},{"year":2019,"month":6,"date":1,"utc":true},
       {"year":2019,"month":7,"date":1,"utc":true},{"year":2019,"month":8,"date":1,"utc":true},{"year":2019,"month":9,"date":1,"utc":true},
       {"year":2019,"month":10,"date":1,"utc":true}],
      "labelAlign":"left","labelBaseline":"top","labelOffset":3,"labelPadding":-5,"tickSize":9,"labelFontSize":6,"labelOverlap":false,"domainColor":"#999","title":null}},
    "y":{"field":"v","type":"quantitative","scale":{"domain":[0,9.6],"nice":false},"axis":{"orient":"right","tickCount":5,"labelExpr":"datum.value == 0 ? '' : datum.value + '.000.000'","tickSize":3,"labelPadding":2,"labelFontSize":6,"labelOverlap":false,"labelBound":false,"labelSeparation":0,"title":null}},
    "color":{"condition":{"test":"datum.c >= datum.o","value":"#6d9bd5"},"value":"#f27c6e"}}},
  {"data":{"values":[{"v":0}]},
   "mark":{"type":"rule","color":"#4a7fd0","strokeWidth":1},
   "encoding":{"y":{"field":"v","type":"quantitative"}}},
  {"data":{"values":[{"d":"2019-01-01","v":0,"t":"2019"}]},
   "mark":{"type":"text","align":"left","baseline":"middle","dx":2,"dy":1,"fontSize":6,"color":"#444","font":"Liberation Sans"},
   "encoding":{"x":{"field":"d","type":"temporal"},"y":{"field":"v","type":"quantitative"},"text":{"field":"t"}}},
  {"data":{"values":[{"d":"2019-11-06","d2":"2019-11-20","v":-0.2,"v2":0.75}]},
   "mark":{"type":"rect","color":"#e84c4c","clip":false},
   "encoding":{"x":{"field":"d","type":"temporal"},"x2":{"field":"d2"},"y":{"field":"v","type":"quantitative"},"y2":{"field":"v2"}}},
  {"data":{"values":[{"d":"2019-11-13","v":0.27,"t":"68.394"}]},
   "mark":{"type":"text","color":"white","fontSize":5.5,"font":"Liberation Sans","align":"center","baseline":"middle"},
   "encoding":{"x":{"field":"d","type":"temporal"},"y":{"field":"v","type":"quantitative"},"text":{"field":"t"}}}
 ]
}
]
}
